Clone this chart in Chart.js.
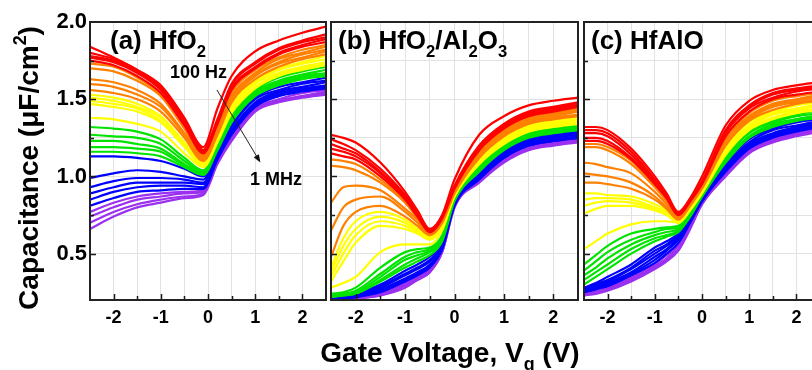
<!DOCTYPE html>
<html>
<head>
<meta charset="utf-8">
<script src="https://cdn.jsdelivr.net/npm/chart.js@4.4.0/dist/chart.umd.min.js"></script>
<style>
html, body { margin: 0; padding: 0; background: #fff; overflow: hidden; }
#wrap { position: relative; width: 812px; height: 370px; overflow: hidden; }
canvas { position: absolute; left: 0; top: 0; }
</style>
</head>
<body>
<div id="wrap">
    <canvas id="chart-a" width="812" height="370"></canvas>
    <canvas id="chart-b" width="812" height="370"></canvas>
    <canvas id="chart-c" width="830" height="370"></canvas>
</div>
<script>
// gate voltage knots
var vgA = [-2.5, -2, -1.5, -1, -0.5, -0.1, 0.2, 0.5, 1, 1.5, 2, 2.5];
var vgB = [-2.5, -2.25, -2, -1.5, -1, -0.75, -0.5, -0.25, 0, 0.5, 1, 1.5, 2, 2.5];
var vgC = [-2.5, -2.25, -2, -1.5, -1, -0.75, -0.5, -0.25, 0, 0.5, 1, 1.5, 2, 2.5];

// (a) HfO2, capacitance (uF/cm2), 100 Hz (red) -> 1 MHz (violet)
var aRed = [
    [1.84,1.77,1.69,1.59,1.38,1.19,1.44,1.65,1.81,1.88,1.93,1.97],
    [1.80,1.76,1.69,1.58,1.37,1.17,1.37,1.60,1.74,1.83,1.88,1.92],
    [1.78,1.75,1.68,1.57,1.36,1.17,1.36,1.59,1.73,1.82,1.87,1.90],
    [1.77,1.74,1.67,1.56,1.35,1.16,1.35,1.57,1.71,1.80,1.85,1.89],
    [1.75,1.72,1.65,1.54,1.33,1.15,1.34,1.56,1.70,1.79,1.84,1.87]
];
var aOrange = [
    [1.73,1.71,1.64,1.53,1.32,1.14,1.32,1.54,1.69,1.77,1.82,1.85],
    [1.70,1.68,1.62,1.52,1.31,1.13,1.31,1.52,1.67,1.76,1.80,1.84],
    [1.63,1.61,1.56,1.47,1.28,1.12,1.30,1.51,1.66,1.74,1.79,1.82],
    [1.60,1.58,1.53,1.45,1.27,1.11,1.29,1.49,1.65,1.73,1.77,1.81],
    [1.56,1.54,1.50,1.42,1.25,1.10,1.27,1.48,1.63,1.71,1.76,1.79]
];
var aYellow = [
    [1.53,1.51,1.47,1.39,1.22,1.09,1.26,1.46,1.62,1.70,1.74,1.78],
    [1.51,1.49,1.45,1.38,1.21,1.08,1.25,1.45,1.61,1.69,1.73,1.76],
    [1.49,1.47,1.44,1.36,1.20,1.08,1.24,1.43,1.60,1.67,1.71,1.74],
    [1.47,1.45,1.42,1.35,1.19,1.07,1.23,1.42,1.58,1.66,1.70,1.73],
    [1.38,1.37,1.34,1.29,1.15,1.06,1.22,1.41,1.57,1.65,1.69,1.72]
];
var aGreen = [
    [1.32,1.31,1.29,1.24,1.12,1.04,1.21,1.40,1.56,1.64,1.68,1.71],
    [1.27,1.26,1.25,1.21,1.10,1.03,1.20,1.38,1.55,1.62,1.66,1.69],
    [1.23,1.23,1.21,1.18,1.08,1.02,1.19,1.37,1.54,1.61,1.65,1.67],
    [1.19,1.19,1.18,1.16,1.07,1.02,1.18,1.36,1.53,1.60,1.64,1.66],
    [1.16,1.16,1.15,1.13,1.06,1.01,1.17,1.35,1.52,1.59,1.63,1.65]
];
var aBlue = [
    [1.13,1.13,1.12,1.10,1.05,1.00,1.16,1.33,1.51,1.58,1.61,1.64],
    [0.99,1.02,1.04,1.03,1.00,0.98,1.15,1.32,1.50,1.56,1.60,1.62],
    [0.93,0.97,0.99,0.99,0.98,0.96,1.14,1.30,1.48,1.55,1.58,1.61],
    [0.89,0.93,0.96,0.96,0.96,0.95,1.13,1.29,1.47,1.54,1.57,1.59],
    [0.85,0.90,0.93,0.94,0.94,0.93,1.12,1.28,1.46,1.53,1.56,1.58],
    [0.81,0.86,0.90,0.91,0.92,0.92,1.11,1.27,1.45,1.52,1.55,1.57]
];
var aViolet = [
    [0.77,0.83,0.87,0.89,0.90,0.91,1.10,1.26,1.44,1.50,1.54,1.56],
    [0.74,0.80,0.85,0.87,0.89,0.90,1.09,1.24,1.43,1.49,1.52,1.55],
    [0.70,0.77,0.82,0.85,0.87,0.89,1.09,1.24,1.43,1.49,1.52,1.54],
    [0.66,0.74,0.80,0.83,0.86,0.88,1.08,1.23,1.42,1.48,1.51,1.53]
];

// (b) HfO2/Al2O3
var bRed = [
    [1.27,1.25,1.22,1.09,0.90,0.78,0.66,0.75,0.98,1.27,1.39,1.46,1.49,1.51],
    [1.24,1.21,1.17,1.05,0.88,0.77,0.65,0.74,0.94,1.20,1.34,1.42,1.45,1.48],
    [1.21,1.18,1.15,1.03,0.87,0.76,0.65,0.74,0.93,1.19,1.33,1.41,1.44,1.47],
    [1.18,1.16,1.13,1.02,0.86,0.75,0.64,0.73,0.93,1.18,1.32,1.40,1.43,1.46],
    [1.15,1.13,1.11,1.00,0.85,0.74,0.64,0.73,0.92,1.17,1.31,1.39,1.42,1.45]
];
var bOrange = [
    [1.11,1.10,1.08,0.98,0.84,0.74,0.64,0.72,0.92,1.16,1.30,1.38,1.41,1.44],
    [1.07,1.06,1.04,0.96,0.83,0.73,0.63,0.72,0.91,1.15,1.29,1.37,1.40,1.43],
    [0.83,0.93,0.94,0.91,0.79,0.72,0.63,0.71,0.91,1.14,1.28,1.36,1.39,1.42],
    [0.65,0.80,0.85,0.87,0.77,0.70,0.62,0.70,0.90,1.13,1.27,1.35,1.38,1.40],
    [0.48,0.68,0.77,0.81,0.74,0.68,0.62,0.70,0.89,1.12,1.26,1.34,1.37,1.39]
];
var bYellow = [
    [0.41,0.60,0.71,0.77,0.72,0.66,0.61,0.69,0.89,1.11,1.25,1.33,1.36,1.38],
    [0.38,0.55,0.66,0.74,0.70,0.65,0.60,0.68,0.88,1.10,1.24,1.32,1.35,1.37],
    [0.35,0.50,0.62,0.71,0.68,0.64,0.60,0.68,0.88,1.09,1.23,1.31,1.34,1.36],
    [0.32,0.45,0.57,0.68,0.66,0.63,0.59,0.67,0.87,1.08,1.22,1.30,1.33,1.35],
    [0.28,0.31,0.35,0.51,0.56,0.56,0.56,0.65,0.87,1.08,1.21,1.29,1.32,1.34]
];
var bGreen = [
    [0.24,0.25,0.28,0.41,0.51,0.53,0.54,0.62,0.86,1.07,1.20,1.28,1.31,1.34],
    [0.23,0.24,0.26,0.37,0.48,0.51,0.53,0.61,0.86,1.06,1.19,1.27,1.30,1.33],
    [0.23,0.24,0.25,0.35,0.46,0.49,0.52,0.60,0.85,1.05,1.18,1.26,1.29,1.32],
    [0.22,0.23,0.24,0.33,0.43,0.47,0.51,0.59,0.85,1.04,1.18,1.26,1.29,1.31],
    [0.22,0.23,0.24,0.32,0.41,0.45,0.49,0.58,0.84,1.03,1.17,1.25,1.28,1.30]
];
var bBlue = [
    [0.22,0.22,0.24,0.30,0.39,0.43,0.48,0.57,0.84,1.03,1.16,1.24,1.27,1.29],
    [0.21,0.22,0.23,0.29,0.37,0.41,0.46,0.56,0.83,1.02,1.15,1.23,1.26,1.28],
    [0.21,0.22,0.23,0.28,0.36,0.40,0.45,0.55,0.83,1.01,1.14,1.22,1.25,1.27],
    [0.21,0.21,0.22,0.27,0.34,0.38,0.43,0.54,0.82,1.00,1.13,1.21,1.24,1.26],
    [0.21,0.21,0.22,0.26,0.33,0.37,0.42,0.53,0.82,0.99,1.12,1.20,1.23,1.25],
    [0.21,0.21,0.22,0.25,0.32,0.36,0.41,0.53,0.81,0.98,1.12,1.20,1.23,1.25]
];
var bViolet = [
    [0.20,0.21,0.21,0.24,0.31,0.35,0.40,0.52,0.81,0.98,1.11,1.19,1.22,1.24],
    [0.20,0.20,0.21,0.24,0.30,0.34,0.39,0.52,0.81,0.97,1.10,1.18,1.21,1.23],
    [0.20,0.20,0.21,0.23,0.29,0.33,0.38,0.51,0.80,0.97,1.10,1.18,1.21,1.23],
    [0.20,0.20,0.21,0.23,0.28,0.33,0.38,0.51,0.80,0.96,1.09,1.17,1.20,1.22]
];

// (c) HfAlO
var cRed = [
    [1.32,1.32,1.30,1.18,1.00,0.89,0.77,0.86,1.00,1.33,1.49,1.56,1.59,1.61],
    [1.30,1.30,1.28,1.16,0.98,0.88,0.76,0.85,0.97,1.30,1.46,1.54,1.57,1.59],
    [1.28,1.28,1.26,1.14,0.97,0.87,0.76,0.85,0.96,1.29,1.45,1.53,1.56,1.58],
    [1.25,1.25,1.23,1.12,0.96,0.86,0.75,0.84,0.96,1.28,1.44,1.51,1.55,1.57],
    [1.23,1.23,1.21,1.11,0.95,0.86,0.75,0.84,0.95,1.26,1.42,1.50,1.53,1.55]
];
var cOrange = [
    [1.21,1.21,1.19,1.10,0.94,0.85,0.74,0.83,0.94,1.25,1.41,1.49,1.52,1.54],
    [1.19,1.19,1.17,1.08,0.93,0.84,0.74,0.83,0.94,1.24,1.39,1.47,1.50,1.53],
    [1.09,1.08,1.06,1.02,0.90,0.82,0.73,0.82,0.93,1.23,1.38,1.46,1.49,1.52],
    [1.02,1.01,1.00,0.96,0.87,0.80,0.73,0.82,0.93,1.21,1.37,1.45,1.48,1.50],
    [0.96,0.96,0.95,0.92,0.85,0.79,0.72,0.81,0.92,1.20,1.36,1.43,1.47,1.49]
];
var cYellow = [
    [0.89,0.89,0.88,0.87,0.82,0.78,0.72,0.80,0.91,1.19,1.35,1.42,1.46,1.48],
    [0.85,0.86,0.86,0.85,0.80,0.77,0.71,0.80,0.91,1.18,1.33,1.41,1.44,1.47],
    [0.81,0.83,0.84,0.83,0.79,0.76,0.71,0.79,0.90,1.17,1.32,1.40,1.43,1.46],
    [0.76,0.79,0.81,0.81,0.78,0.75,0.70,0.79,0.90,1.15,1.31,1.38,1.42,1.44],
    [0.53,0.58,0.63,0.69,0.71,0.71,0.70,0.78,0.89,1.14,1.30,1.37,1.41,1.43]
];
var cGreen = [
    [0.43,0.49,0.55,0.63,0.66,0.67,0.68,0.77,0.89,1.14,1.29,1.36,1.40,1.43],
    [0.39,0.45,0.51,0.59,0.64,0.66,0.67,0.76,0.88,1.12,1.28,1.35,1.39,1.41],
    [0.36,0.41,0.47,0.56,0.62,0.64,0.66,0.76,0.88,1.11,1.26,1.34,1.37,1.40],
    [0.33,0.38,0.43,0.53,0.60,0.62,0.65,0.75,0.87,1.10,1.26,1.33,1.37,1.39],
    [0.30,0.35,0.40,0.50,0.58,0.61,0.64,0.74,0.87,1.09,1.25,1.32,1.36,1.38]
];
var cBlue = [
    [0.28,0.31,0.35,0.43,0.54,0.58,0.63,0.73,0.86,1.08,1.24,1.31,1.35,1.37],
    [0.27,0.30,0.33,0.41,0.52,0.56,0.62,0.72,0.86,1.07,1.22,1.30,1.33,1.36],
    [0.26,0.29,0.32,0.40,0.50,0.55,0.61,0.72,0.85,1.06,1.21,1.28,1.32,1.35],
    [0.26,0.28,0.31,0.38,0.48,0.53,0.60,0.71,0.84,1.05,1.20,1.27,1.31,1.34],
    [0.25,0.27,0.30,0.37,0.46,0.52,0.59,0.71,0.84,1.04,1.19,1.26,1.30,1.33],
    [0.25,0.27,0.29,0.36,0.44,0.50,0.57,0.70,0.84,1.03,1.18,1.25,1.29,1.32]
];
var cViolet = [
    [0.24,0.26,0.28,0.35,0.43,0.49,0.56,0.69,0.83,1.02,1.17,1.24,1.28,1.31],
    [0.24,0.25,0.27,0.34,0.42,0.47,0.55,0.68,0.83,1.01,1.16,1.23,1.27,1.30],
    [0.23,0.25,0.27,0.33,0.41,0.46,0.53,0.67,0.82,1.01,1.16,1.23,1.27,1.30],
    [0.23,0.24,0.26,0.32,0.40,0.45,0.52,0.66,0.82,1.00,1.15,1.22,1.26,1.29]
];

var colours = {
    red: '#ff0000',
    orange: '#ff8000',
    yellow: '#ffff00',
    green: '#00e400',
    blue: '#0000ff',
    violet: '#9b30f0'
};

var FONT = 'Arial, "Liberation Sans", sans-serif';
Chart.defaults.font.family = FONT;

function isWhole(v, step) {
    var r = v / step;
    return Math.abs(r - Math.round(r)) < 1e-6;
}

function buildSets(volts, groups) {
    var sets = [];
    groups.forEach(function(g) {
        g[1].forEach(function(curve) {
            sets.push({
                data: curve.map(function(c, i) { return {x: volts[i], y: c}; }),
                borderColor: colours[g[0]],
                borderWidth: 2.2,
                pointRadius: 0,
                showLine: true,
                fill: false,
                cubicInterpolationMode: 'monotone'
            });
        });
    });
    return sets;
}

// text with sub / superscripts: parts = [[text, 0 normal | 1 sub | -1 sup]]
function drawRich(ctx, parts, x, y, size, align) {
    var total = 0;
    parts.forEach(function(p) {
        ctx.font = 'bold ' + (p[1] ? size * 0.64 : size) + 'px ' + FONT;
        total += ctx.measureText(p[0]).width;
    });
    var cx = (align == 'center') ? x - total / 2 : x;
    ctx.fillStyle = '#000';
    ctx.textAlign = 'left';
    ctx.textBaseline = 'alphabetic';
    parts.forEach(function(p) {
        ctx.font = 'bold ' + (p[1] ? size * 0.64 : size) + 'px ' + FONT;
        var dy = 0;
        if (p[1] == 1) dy = size * 0.3;
        if (p[1] == -1) dy = -size * 0.42;
        ctx.fillText(p[0], cx, y + dy);
        cx += ctx.measureText(p[0]).width;
    });
}

// frame, inward ticks and panel label
function framePlugin(label, lx, ly) {
    return {
        id: 'frame',
        afterDatasetsDraw: function(chart) {
            var ctx = chart.ctx;
            var area = chart.chartArea;
            var xs = chart.scales.x;
            var ys = chart.scales.y;
            ctx.save();
            ctx.strokeStyle = '#1a1a1a';
            ctx.lineWidth = 1.5;
            ctx.beginPath();
            xs.ticks.forEach(function(t) {
                var px = Math.round(xs.getPixelForValue(t.value)) + 0.5;
                if (px <= area.left + 2 || px >= area.right - 2) return;
                var len = isWhole(t.value, 1) ? 6 : 4;
                ctx.moveTo(px, area.bottom);
                ctx.lineTo(px, area.bottom - len);
            });
            ys.ticks.forEach(function(t) {
                var py = Math.round(ys.getPixelForValue(t.value)) + 0.5;
                if (py <= area.top + 2 || py >= area.bottom - 2) return;
                var len = isWhole(t.value, 0.5) ? 6 : 4;
                ctx.moveTo(area.left, py);
                ctx.lineTo(area.left + len, py);
            });
            ctx.stroke();
            ctx.lineWidth = 2;
            ctx.strokeStyle = '#222';
            ctx.strokeRect(area.left, area.top, area.right - area.left, area.bottom - area.top);
            drawRich(ctx, label, lx, ly, 26, 'left');
            ctx.restore();
        }
    };
}

// axis titles and frequency arrow, drawn with panel (a)
var titlePlugin = {
    id: 'titles',
    afterDraw: function(chart) {
        var ctx = chart.ctx;
        var xs = chart.scales.x;
        var ys = chart.scales.y;
        ctx.save();
        ctx.translate(38, 168);
        ctx.rotate(-Math.PI / 2);
        drawRich(ctx, [['Capacitance (\u03bcF/cm', 0], ['2', -1], [')', 0]], 0, 0, 28, 'center');
        ctx.restore();
        ctx.save();
        drawRich(ctx, [['Gate Voltage, V', 0], ['g', 1], [' (V)', 0]], 450, 362, 28, 'center');
        drawRich(ctx, [['100 Hz', 0]], 170, 78, 18, 'left');
        drawRich(ctx, [['1 MHz', 0]], 250, 185, 18, 'left');
        var x0 = xs.getPixelForValue(0.19), y0 = ys.getPixelForValue(1.56);
        var x1 = xs.getPixelForValue(1.11), y1 = ys.getPixelForValue(1.09);
        var ang = Math.atan2(y1 - y0, x1 - x0);
        ctx.strokeStyle = '#222';
        ctx.lineWidth = 1;
        ctx.beginPath();
        ctx.moveTo(x0, y0);
        ctx.lineTo(x1 - 6 * Math.cos(ang), y1 - 6 * Math.sin(ang));
        ctx.stroke();
        ctx.fillStyle = '#111';
        ctx.beginPath();
        ctx.moveTo(x1, y1);
        ctx.lineTo(x1 - 8 * Math.cos(ang) + 3 * Math.sin(ang), y1 - 8 * Math.sin(ang) - 3 * Math.cos(ang));
        ctx.lineTo(x1 - 8 * Math.cos(ang) - 3 * Math.sin(ang), y1 - 8 * Math.sin(ang) + 3 * Math.cos(ang));
        ctx.closePath();
        ctx.fill();
        ctx.restore();
    }
};

function makePanel(id, volts, groups, padLeft, padRight, yWidth, showY, plugins) {
    return new Chart(document.getElementById(id), {
        type: 'scatter',
        data: { datasets: buildSets(volts, groups) },
        options: {
            responsive: false,
            animation: false,
            events: [],
            layout: { padding: { left: padLeft, right: padRight, top: 22, bottom: 0 } },
            plugins: { legend: { display: false }, tooltip: { enabled: false } },
            scales: {
                x: {
                    type: 'linear',
                    min: -2.5,
                    max: 2.5,
                    border: { display: false },
                    grid: { color: '#e2e2e2', lineWidth: 1, drawTicks: false },
                    afterFit: function(s) { s.height = 70; },
                    ticks: {
                        stepSize: 0.5,
                        autoSkip: false,
                        maxRotation: 0,
                        padding: 7,
                        color: '#000',
                        font: { size: 18, weight: 'bold' },
                        callback: function(v) { return isWhole(v, 1) ? String(Math.round(v)) : ''; }
                    }
                },
                y: {
                    type: 'linear',
                    min: 0.2,
                    max: 2.0,
                    border: { display: false },
                    grid: { color: '#e2e2e2', lineWidth: 1, drawTicks: false },
                    afterFit: function(s) { s.width = yWidth; },
                    ticks: {
                        display: showY,
                        stepSize: 0.25,
                        autoSkip: false,
                        padding: 3,
                        color: '#000',
                        font: { size: 22, weight: 'bold' },
                        callback: function(v) { return isWhole(v, 0.5) ? v.toFixed(1) : ''; }
                    }
                }
            }
        },
        plugins: plugins
    });
}

var chartA = makePanel('chart-a', vgA,
    [['red', aRed], ['orange', aOrange], ['yellow', aYellow], ['green', aGreen], ['blue', aBlue], ['violet', aViolet]],
    0, 812 - 326, 90, true,
    [framePlugin([['(a) HfO', 0], ['2', 1]], 110, 49), titlePlugin]);

var chartB = makePanel('chart-b', vgB,
    [['red', bRed], ['orange', bOrange], ['yellow', bYellow], ['green', bGreen], ['blue', bBlue], ['violet', bViolet]],
    327, 812 - 578, 4, false,
    [framePlugin([['(b) HfO', 0], ['2', 1], ['/Al', 0], ['2', 1], ['O', 0], ['3', 1]], 338, 49)]);

var chartC = makePanel('chart-c', vgC,
    [['red', cRed], ['orange', cOrange], ['yellow', cYellow], ['green', cGreen], ['blue', cBlue], ['violet', cViolet]],
    580, 830 - 820, 4, false,
    [framePlugin([['(c) HfAlO', 0]], 591, 49)]);
</script>
</body>
</html>
